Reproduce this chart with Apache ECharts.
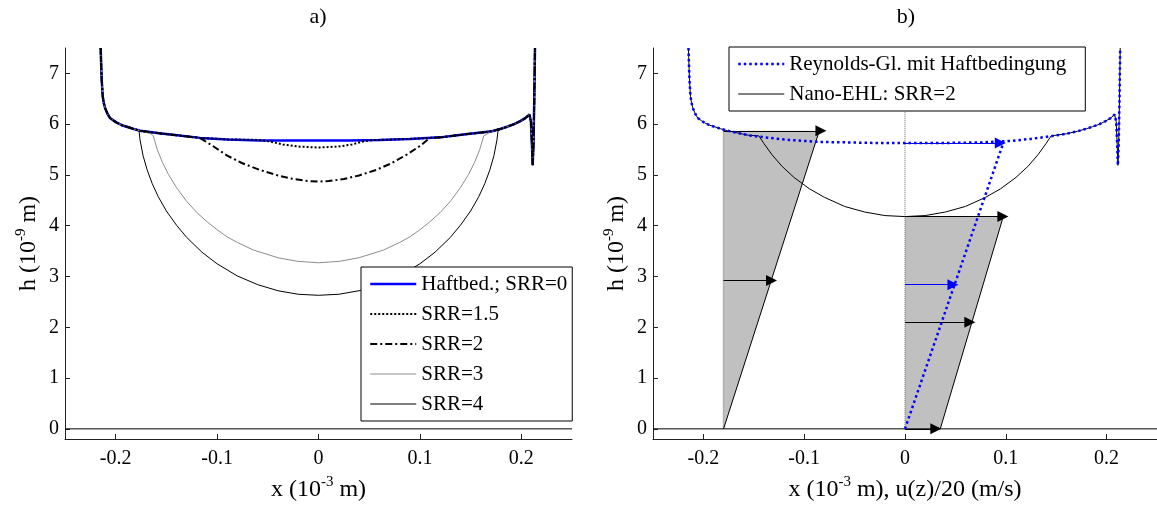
<!DOCTYPE html>
<html>
<head>
<meta charset="utf-8">
<script src="https://cdn.jsdelivr.net/npm/echarts@6/dist/echarts.min.js"></script>
<style>
  html, body { margin: 0; background: #fff; }
  #chart { width: 1157px; height: 507px; }
</style>
</head>
<body>
<div id="chart"></div>
<script>
/* ---------------------------- data ---------------------------- */
// x in 1e-3 m, h in 1e-9 m
const xTickValues = [-0.2, -0.1, 0, 0.1, 0.2];
const xTickLabels = ['-0.2', '-0.1', '0', '0.1', '0.2'];
const yTickValues = [0, 1, 2, 3, 4, 5, 6, 7];
const yTickLabels = ['0', '1', '2', '3', '4', '5', '6', '7'];

// common inlet wall (left) and outlet spike (right)
const leftX = [-0.2148, -0.2143, -0.2138, -0.2128, -0.2118, -0.2105, -0.208, -0.2056, -0.202, -0.199, -0.194, -0.189, -0.183, -0.176];
const leftH = [7.5, 7.15, 6.87, 6.55, 6.42, 6.32, 6.2, 6.12, 6.07, 6.03, 5.98, 5.95, 5.91, 5.87];
const rightX = [0.171, 0.180, 0.186, 0.193, 0.199, 0.204, 0.208, 0.2095, 0.2105, 0.2112, 0.2120, 0.2128, 0.2135];
const rightH = [5.86, 5.91, 5.95, 6.00, 6.06, 6.12, 6.19, 6.05, 5.6, 5.19, 5.6, 6.5, 7.5];

// a) Haftbed.; SRR=0
const haftX = [-0.157, -0.135, -0.117, -0.090, -0.058, -0.030, 0, 0.030, 0.060, 0.090, 0.120, 0.145, 0.158];
const haftH = [5.82, 5.77, 5.73, 5.70, 5.68, 5.68, 5.68, 5.68, 5.69, 5.71, 5.74, 5.80, 5.83];
// SRR = 1.5
const srr15X = [-0.060, -0.048, -0.035, -0.020, 0, 0.020, 0.033, 0.044, 0.056];
const srr15H = [5.69, 5.66, 5.60, 5.56, 5.54, 5.56, 5.60, 5.66, 5.69];
// SRR = 2
const srr2X = [-0.117, -0.105, -0.090, -0.075, -0.058, -0.040, -0.025, -0.010, 0, 0.010, 0.025, 0.040, 0.057, 0.072, 0.087, 0.100, 0.110];
const srr2H = [5.73, 5.58, 5.38, 5.23, 5.10, 4.99, 4.92, 4.88, 4.87, 4.88, 4.92, 4.99, 5.10, 5.23, 5.40, 5.57, 5.73];
// SRR = 3
const srr3X = [-0.165, -0.163, -0.159, -0.154, -0.148, -0.140, -0.130, -0.120, -0.110, -0.100, -0.090, -0.080, -0.064, -0.040, -0.021, 0, 0.021, 0.040, 0.064, 0.080, 0.090, 0.100, 0.110, 0.120, 0.130, 0.140, 0.148, 0.154, 0.159, 0.163, 0.164];
const srr3H = [5.81, 5.77, 5.50, 5.25, 5.01, 4.75, 4.48, 4.26, 4.08, 3.92, 3.78, 3.67, 3.52, 3.37, 3.30, 3.27, 3.30, 3.37, 3.52, 3.67, 3.78, 3.92, 4.08, 4.26, 4.48, 4.75, 5.01, 5.25, 5.50, 5.77, 5.80];
// SRR = 4
const srr4X = [-0.177, -0.176, -0.173, -0.169, -0.164, -0.158, -0.150, -0.140, -0.130, -0.115, -0.100, -0.080, -0.060, -0.040, -0.020, 0, 0.020, 0.040, 0.060, 0.080, 0.100, 0.115, 0.130, 0.140, 0.150, 0.158, 0.164, 0.169, 0.173, 0.176, 0.177];
const srr4H = [5.87, 5.69, 5.38, 5.10, 4.83, 4.57, 4.29, 4.01, 3.77, 3.48, 3.25, 3.01, 2.84, 2.72, 2.65, 2.63, 2.65, 2.72, 2.84, 3.01, 3.25, 3.48, 3.77, 4.01, 4.29, 4.57, 4.83, 5.10, 5.38, 5.69, 5.86];

// b) Reynolds-Gl. mit Haftbedingung
const reyX = [-0.155, -0.135, -0.115, -0.085, -0.055, -0.030, 0, 0.040, 0.075, 0.105, 0.125, 0.144, 0.160];
const reyH = [5.78, 5.73, 5.69, 5.65, 5.64, 5.63, 5.63, 5.63, 5.64, 5.67, 5.71, 5.76, 5.81];
// Nano-EHL: SRR=2
const nanoX = [-0.145, -0.140, -0.132, -0.122, -0.110, -0.095, -0.080, -0.060, -0.040, -0.020, 0, 0.020, 0.040, 0.060, 0.080, 0.095, 0.110, 0.122, 0.132, 0.140, 0.145];
const nanoH = [5.77, 5.62, 5.40, 5.17, 4.95, 4.73, 4.56, 4.38, 4.27, 4.20, 4.18, 4.20, 4.27, 4.38, 4.56, 4.73, 4.95, 5.17, 5.40, 5.62, 5.77];

// velocity profiles u(z)/20 drawn at x0
const prof1X = [-0.18, -0.18, -0.085];
const prof1H = [0, 5.87, 5.87];
const prof2X = [0, 0.035, 0.0975, 0];
const prof2H = [0, 0, 4.18, 4.18];
// Reynolds (no-slip) linear profile
const reyProfX = [0, 0.0975];
const reyProfH = [0, 5.63];

// arrows: height, start, tip
const arrowH = [5.87, 2.92, 4.18, 2.10, 0];
const arrowX0 = [-0.18, -0.18, 0, 0, 0];
const arrowX1 = [-0.078, -0.127, 0.1025, 0.0697, 0.036];
const blueArrowH = [5.63, 2.84];
const blueArrowX0 = [0, 0];
const blueArrowX1 = [0.1, 0.053];

/* ---------------------------------- helpers ---------------------------------- */
const pairs = (xs, hs) => xs.map((x, i) => [x, hs[i]]);
const splice = (base, mid) => {
  const a = mid[0][0];
  const b = mid[mid.length - 1][0];
  return base.filter(p => p[0] < a).concat(mid, base.filter(p => p[0] > b));
};

const haftBase = pairs(leftX, leftH).concat(pairs(haftX, haftH), pairs(rightX, rightH));
const reyBase = pairs(leftX, leftH).concat(pairs(reyX, reyH), pairs(rightX, rightH));

const FONT = 'Liberation Serif';
const arrowSize = 11;
const halfArrow = (arrowSize / 2) / 1014; // px -> data units on x

const nameRich = {
  t: { fontFamily: FONT, fontSize: 24, color: '#000', lineHeight: 30 },
  s: { fontFamily: FONT, fontSize: 15, color: '#000', verticalAlign: 'top' }
};

const makeX = idx => ({
  type: 'value',
  gridIndex: idx,
  min: -0.25,
  max: 0.25,
  nameLocation: 'middle',
  nameGap: 36,
  nameTextStyle: { rich: nameRich },
  axisLine: { onZero: false, lineStyle: { color: '#222', width: 1 } },
  axisTick: { inside: true, length: 5, customValues: xTickValues, lineStyle: { color: '#222' } },
  axisLabel: {
    customValues: xTickValues,
    margin: 10,
    color: '#000',
    fontFamily: FONT,
    fontSize: 20,
    formatter: v => xTickLabels[xTickValues.findIndex(t => Math.abs(t - v) < 1e-9)]
  },
  splitLine: { show: false }
});

const makeY = idx => ({
  type: 'value',
  gridIndex: idx,
  min: -0.2,
  max: 7.5,
  name: '{t|h (10}{s|-9}{t| m)}',
  nameLocation: 'middle',
  nameRotate: 90,
  nameGap: 21,
  nameTextStyle: { rich: nameRich },
  axisLine: { onZero: false, lineStyle: { color: '#222', width: 1 } },
  axisTick: { inside: true, length: 5, customValues: yTickValues, lineStyle: { color: '#222' } },
  axisLabel: {
    customValues: yTickValues,
    margin: 6,
    color: '#000',
    fontFamily: FONT,
    fontSize: 20,
    formatter: v => yTickLabels[yTickValues.indexOf(v)]
  },
  splitLine: { show: false }
});

const curve = (name, data, idx, lineStyle, z) => ({
  name,
  type: 'line',
  xAxisIndex: idx,
  yAxisIndex: idx,
  data,
  showSymbol: false,
  symbol: 'none',
  lineStyle,
  z: z || 2,
  silent: true
});

const arrows = (hs, x0s, x1s, color, idx) => ({
  type: 'lines',
  coordinateSystem: 'cartesian2d',
  xAxisIndex: idx,
  yAxisIndex: idx,
  symbol: ['none', 'triangle'],
  symbolSize: arrowSize,
  lineStyle: { color, width: 1, opacity: 1, curveness: 0 },
  z: 5,
  silent: true,
  data: hs.map((h, i) => ({ coords: [[x0s[i], h], [x1s[i] - halfArrow, h]] }))
});

const profiles = [{ x: prof1X, h: prof1H }, { x: prof2X, h: prof2H }];

const xA = makeX(0);
xA.name = '{t|x (10}{s|-3}{t| m)}';
const xB = makeX(1);
xB.name = '{t|x (10}{s|-3}{t| m), u(z)/20 (m/s)}';

const legendBase = {
  orient: 'vertical',
  itemWidth: 46,
  itemHeight: 22,
  itemGap: 6,
  selectedMode: false,
  backgroundColor: '#fff',
  borderColor: '#000',
  borderWidth: 1,
  itemStyle: { opacity: 0 },
  lineStyle: { width: 'inherit' },
  textStyle: { fontFamily: FONT, fontSize: 21, color: '#000', lineHeight: 24 }
};

const option = {
  animation: false,
  backgroundColor: '#fff',
  title: [
    { text: 'a)', left: 318, top: 6, textAlign: 'center', padding: 0,
      textStyle: { fontFamily: FONT, fontSize: 22, fontWeight: 'normal', color: '#000' } },
    { text: 'b)', left: 906, top: 6, textAlign: 'center', padding: 0,
      textStyle: { fontFamily: FONT, fontSize: 22, fontWeight: 'normal', color: '#000' } }
  ],
  grid: [
    { left: 65, top: 48, width: 507, height: 393.2 },
    { left: 653, top: 48, width: 507, height: 393.2 }
  ],
  xAxis: [xA, xB],
  yAxis: [makeY(0), makeY(1)],
  legend: [
    Object.assign({}, legendBase, {
      data: ['Haftbed.; SRR=0', 'SRR=1.5', 'SRR=2', 'SRR=3', 'SRR=4'],
      left: 361,
      top: 267,
      padding: [5, 5, 5, 8]
    }),
    Object.assign({}, legendBase, {
      data: ['Reynolds-Gl. mit Haftbedingung', 'Nano-EHL: SRR=2'],
      left: 729,
      top: 47,
      padding: [5, 19, 5, 8]
    })
  ],
  series: [
    /* ------------------------------ panel a ------------------------------ */
    curve('surface a', [[-0.25, 0], [0.25, 0]], 0, { color: '#000', width: 1 }),
    curve('Haftbed.; SRR=0', haftBase, 0, { color: '#0000ff', width: 2.5 }),
    curve('SRR=4', splice(haftBase, pairs(srr4X, srr4H)), 0, { color: '#000', width: 1 }),
    curve('SRR=3', splice(haftBase, pairs(srr3X, srr3H)), 0, { color: '#8c8c8c', width: 1 }),
    curve('SRR=2', splice(haftBase, pairs(srr2X, srr2H)), 0, { color: '#000', width: 2, type: [7, 3, 2, 3] }),
    curve('SRR=1.5', splice(haftBase, pairs(srr15X, srr15H)), 0, { color: '#000', width: 2, type: [2, 2] }),

    /* ------------------------------ panel b ------------------------------ */
    {
      type: 'custom',
      xAxisIndex: 1,
      yAxisIndex: 1,
      silent: true,
      z: 1,
      data: profiles.map((p, i) => [i]),
      renderItem: (params, api) => {
        const p = profiles[api.value(0)];
        return {
          type: 'polygon',
          shape: { points: p.x.map((x, k) => api.coord([x, p.h[k]])) },
          style: { fill: '#c0c0c0', stroke: null }
        };
      }
    },
    curve('profile 1 wall', pairs([prof1X[0], prof1X[1]], [prof1H[0], prof1H[1]]), 1, { color: '#b0b0b0', width: 1.5 }),
    curve('profile 1 slope', pairs([prof1X[0], prof1X[2]], [prof1H[0], prof1H[2]]), 1, { color: '#000', width: 1 }),
    curve('profile 2 slope', pairs([prof2X[1], prof2X[2]], [prof2H[1], prof2H[2]]), 1, { color: '#000', width: 1 }),
    curve('surface b', [[-0.25, 0], [0.25, 0]], 1, { color: '#000', width: 1 }),
    curve('x=0', [[0, 0], [0, 7.5]], 1, { color: '#666', width: 1, type: [1, 1] }),
    curve('Nano-EHL: SRR=2', splice(reyBase, pairs(nanoX, nanoH)), 1, { color: '#000', width: 1 }, 3),
    arrows(arrowH, arrowX0, arrowX1, '#000', 1),
    arrows(blueArrowH, blueArrowX0, blueArrowX1, '#0000ff', 1),
    curve('Reynolds-Gl. mit Haftbedingung', reyBase, 1, { color: '#0000ff', width: 2.5, type: [2.5, 3] }, 6),
    curve('Reynolds profile', pairs(reyProfX, reyProfH), 1, { color: '#0000ff', width: 2.5, type: [2.5, 3] }, 6)
  ]
};

const chart = echarts.init(document.getElementById('chart'));
chart.setOption(option);
</script>
</body>
</html>
